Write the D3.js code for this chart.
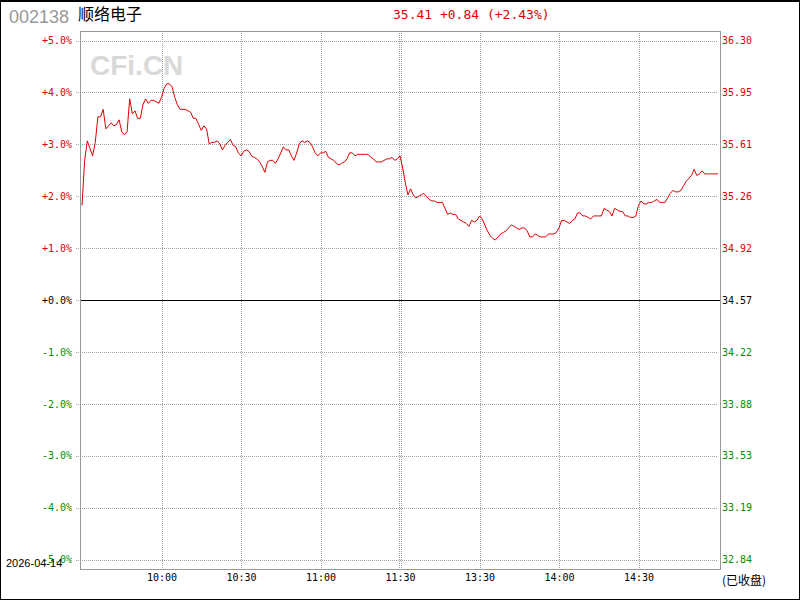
<!DOCTYPE html>
<html><head><meta charset="utf-8">
<script src="https://cdn.jsdelivr.net/npm/d3@7"></script>
<style>
html,body{margin:0;padding:0;background:#fff;}
svg{display:block;}
</style></head>
<body>
<script>
// ---- data ----
const stockCode = "002138";
const stockName = "顺络电子";
const dateLabel = "2026-04-14";
const statusLabel = "(已收盘)";
const prevClose = 34.57;
const lastPrice = 35.41;
const change = 0.84;
const changePct = 2.43;
const pctTicks = [5, 4, 3, 2, 1, 0, -1, -2, -3, -4, -5];
const pctLabels = ["+5.0%", "+4.0%", "+3.0%", "+2.0%", "+1.0%", "+0.0%", "-1.0%", "-2.0%", "-3.0%", "-4.0%", "-5.0%"];
const priceLabels = ["36.30", "35.95", "35.61", "35.26", "34.92", "34.57", "34.22", "33.88", "33.53", "33.19", "32.84"];
const timeTicks = [30, 60, 90, 120, 150, 180, 210];
const timeLabels = ["10:00", "10:30", "11:00", "11:30", "13:30", "14:00", "14:30"];
// one price per trading minute: 9:30-11:30 (121) and 13:01-15:00 (120)
const prices = [
35.20,35.50,35.63,35.58,35.53,35.62,35.79,35.79,35.84,35.71,
35.73,35.75,35.73,35.74,35.77,35.69,35.67,35.69,35.91,35.81,
35.83,35.78,35.78,35.87,35.91,35.88,35.90,35.90,35.89,35.88,
35.92,35.98,36.01,36.01,35.99,35.92,35.87,35.84,35.84,35.84,
35.83,35.82,35.78,35.78,35.74,35.70,35.73,35.71,35.61,35.62,
35.62,35.63,35.61,35.57,35.60,35.62,35.64,35.60,35.59,35.55,
35.53,35.56,35.57,35.56,35.53,35.52,35.51,35.49,35.46,35.42,
35.49,35.50,35.50,35.48,35.51,35.55,35.59,35.57,35.57,35.53,
35.50,35.55,35.61,35.63,35.62,35.63,35.62,35.59,35.55,35.53,
35.55,35.55,35.56,35.52,35.51,35.50,35.48,35.47,35.48,35.49,
35.51,35.55,35.55,35.53,35.54,35.54,35.54,35.54,35.54,35.52,
35.51,35.49,35.49,35.49,35.50,35.51,35.51,35.52,35.50,35.51,
35.53,35.45,35.35,35.27,35.31,35.27,35.25,35.26,35.27,35.28,
35.26,35.24,35.23,35.23,35.22,35.22,35.22,35.18,35.14,35.15,
35.14,35.14,35.11,35.10,35.09,35.08,35.06,35.10,35.09,35.10,
35.13,35.11,35.07,35.03,35.00,34.98,34.97,34.99,35.01,35.02,
35.03,35.05,35.07,35.06,35.05,35.04,35.05,35.05,35.03,34.99,
34.99,35.01,35.00,34.99,34.99,34.99,35.01,35.01,35.01,35.02,
35.05,35.10,35.10,35.09,35.08,35.10,35.11,35.15,35.15,35.13,
35.13,35.12,35.11,35.13,35.13,35.13,35.13,35.18,35.17,35.16,
35.13,35.18,35.17,35.16,35.16,35.13,35.13,35.12,35.12,35.13,
35.20,35.23,35.21,35.21,35.22,35.22,35.23,35.24,35.22,35.22,
35.22,35.25,35.28,35.30,35.29,35.29,35.30,35.33,35.36,35.38,
35.40,35.44,35.40,35.41,35.43,35.41,35.41,35.41,35.41,35.41,
35.41
];

// ---- layout ----
const W = 800, H = 600;
const L = 80, R = 720, T = 31, B = 569;
const RED = "#e00000", GREEN = "#009000", GRID = "#a0a0a0";

const svg = d3.select("body").append("svg").attr("width", W).attr("height", H);

const x = d3.scaleLinear().domain([0, 240]).range([82, 718]);
const y = d3.scaleLinear().domain([-5, 5]).range([559.5, 40.5]);
const toPct = p => (p / prevClose - 1) * 100;
const colorFor = d => d > 0 ? RED : (d < 0 ? GREEN : "#000");

// outer frame
svg.append("rect").attr("x", 0.5).attr("y", 0.5).attr("width", W - 1).attr("height", H - 1)
  .attr("fill", "none").attr("stroke", "#000");
svg.append("line").attr("x1", 0).attr("x2", W).attr("y1", 1.5).attr("y2", 1.5).attr("stroke", "#000");

// watermark
svg.append("text").attr("x", 90).attr("y", 75).text("CFi.CN")
  .attr("font-family", "Liberation Sans, Arial, sans-serif").attr("font-weight", "bold")
  .attr("font-size", 28).attr("fill", "#d9d9d9");

// horizontal grid
svg.append("g").selectAll("line").data(pctTicks.filter(d => d !== 0)).join("line")
  .attr("x1", 76).attr("x2", 718)
  .attr("y1", d => Math.round(y(d)) + 0.5).attr("y2", d => Math.round(y(d)) + 0.5)
  .attr("stroke", GRID).attr("stroke-dasharray", "1,1").attr("shape-rendering", "crispEdges");
// zero line
svg.append("line").attr("x1", 76).attr("x2", L).attr("y1", y(0) + 0.5).attr("y2", y(0) + 0.5)
  .attr("stroke", GRID).attr("stroke-dasharray", "1,1").attr("shape-rendering", "crispEdges");
svg.append("line").attr("x1", L).attr("x2", R + 1).attr("y1", y(0) + 0.5).attr("y2", y(0) + 0.5)
  .attr("stroke", "#000").attr("shape-rendering", "crispEdges");

// vertical grid
const vx = [];
timeTicks.forEach(t => { if (t === 120) { vx.push(x(t) - 1, x(t) + 1); } else vx.push(x(t)); });
svg.append("g").selectAll("line").data(vx).join("line")
  .attr("x1", d => Math.round(d) + 0.5).attr("x2", d => Math.round(d) + 0.5)
  .attr("y1", T).attr("y2", B)
  .attr("stroke", GRID).attr("stroke-dasharray", "1,1").attr("shape-rendering", "crispEdges");

// plot border
svg.append("rect").attr("x", L + 0.5).attr("y", T + 0.5).attr("width", R - L).attr("height", B - T)
  .attr("fill", "none").attr("stroke", "#999").attr("shape-rendering", "crispEdges");

// axes
const axisFont = "DejaVu Sans Mono, monospace";
const gl = svg.append("g").attr("transform", `translate(${L},0)`)
  .call(d3.axisLeft(y).tickValues(pctTicks).tickFormat((d, i) => pctLabels[i]).tickSize(0).tickPadding(8));
gl.select(".domain").remove();
gl.selectAll("text").attr("font-family", axisFont).attr("font-size", 10).attr("fill", d => colorFor(d));

const gr = svg.append("g").attr("transform", `translate(${R},0)`)
  .call(d3.axisRight(y).tickValues(pctTicks).tickFormat((d, i) => priceLabels[i]).tickSize(0).tickPadding(2));
gr.select(".domain").remove();
gr.selectAll("text").attr("font-family", axisFont).attr("font-size", 10).attr("fill", d => colorFor(d));

const gb = svg.append("g").attr("transform", `translate(0,${B})`)
  .call(d3.axisBottom(x).tickValues(timeTicks).tickFormat((d, i) => timeLabels[i]).tickSize(0).tickPadding(5));
gb.select(".domain").remove();
gb.selectAll("text").attr("font-family", axisFont).attr("font-size", 10).attr("fill", "#000");

// price line
const line = d3.line().x((d, i) => x(i)).y(d => y(toPct(d)));
svg.append("path").datum(prices).attr("d", line)
  .attr("fill", "none").attr("stroke", "#dd0000").attr("stroke-width", 1);

// header
svg.append("text").attr("x", 9).attr("y", 23).text(stockCode)
  .attr("font-family", "Liberation Sans, Arial, sans-serif").attr("font-size", 18).attr("fill", "#999");
svg.append("text").attr("x", 78).attr("y", 20).text(stockName)
  .attr("font-family", "Noto Sans CJK SC, sans-serif").attr("font-size", 16).attr("fill", "#000");
svg.append("text").attr("x", 393).attr("y", 19)
  .text(`${lastPrice.toFixed(2)} +${change.toFixed(2)} (+${changePct.toFixed(2)}%)`)
  .attr("font-family", axisFont).attr("font-size", 13).attr("fill", RED);

// footer
svg.append("text").attr("x", 6).attr("y", 567).text(dateLabel)
  .attr("font-family", "Liberation Sans, Arial, sans-serif").attr("font-size", 11).attr("fill", "#000");
svg.append("text").attr("x", 722).attr("y", 585).text(statusLabel)
  .attr("font-family", "Noto Sans CJK SC, sans-serif").attr("font-size", 12).attr("fill", "#000");
</script>
</body></html>
